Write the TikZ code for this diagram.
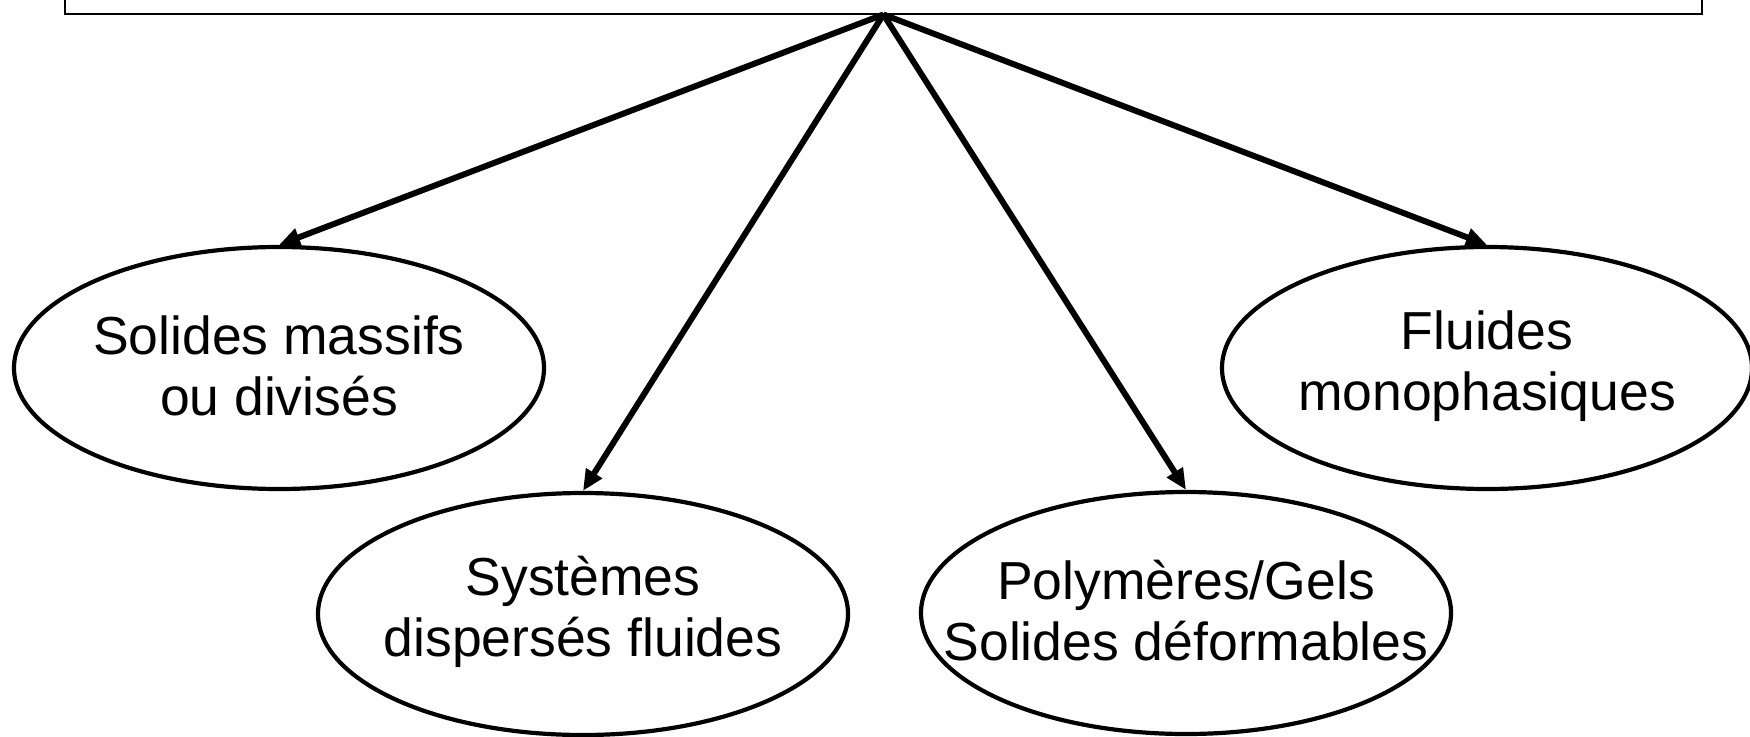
\documentclass[tikz,border=0pt]{standalone}
\usepackage{fontspec}
\setmainfont{Liberation Sans}
\usetikzlibrary{shapes.geometric,arrows.meta}
\tikzset{
  oval/.style={draw, ellipse, line width=4.2pt, minimum width=530pt, minimum height=242pt, inner sep=0pt},
  lbl/.style={align=center, font=\fontsize{53.5}{61}\selectfont, inner sep=0pt},
  link/.style={line width=6pt, -{Triangle[length=21pt,width=18pt]}},
  titlebox/.style={draw, line width=1.6pt, minimum width=1637pt, minimum height=120pt, inner sep=0pt}
}
\begin{document}
\begin{tikzpicture}[x=1pt,y=-1pt]
  \useasboundingbox (0,0) rectangle (1750,736);
  % heading box (its upper part lies above the page)
  \node[titlebox, anchor=south] (titre) at (883.4,14.5) {};
  \coordinate (apex) at (titre.south);
  % the four families
  \node[oval] (solides) at (279,368) {};
  \node[oval] (systemes) at (583,614) {};
  \node[oval] (polymeres) at (1186,613) {};
  \node[oval] (fluides) at (1487,368) {};
  \node[lbl] (tsolides) at ([yshift=2pt]solides) {Solides massifs\\ou divisés};
  \node[lbl] (tsystemes) at ([yshift=2pt]systemes) {Systèmes\\dispersés fluides};
  \node[lbl] (tpolymeres) at ([yshift=2pt]polymeres) {Polymères/Gels\\Solides déformables};
  \node[lbl] (tfluides) at ([yshift=2pt]fluides) {Fluides\\monophasiques};
  % links from the heading
  \draw[link] (apex) -- (solides.north);
  \draw[link] (apex) -- (systemes.north);
  \draw[link] (apex) -- (polymeres.north);
  \draw[link] (apex) -- (fluides.north);
\end{tikzpicture}
\end{document}
